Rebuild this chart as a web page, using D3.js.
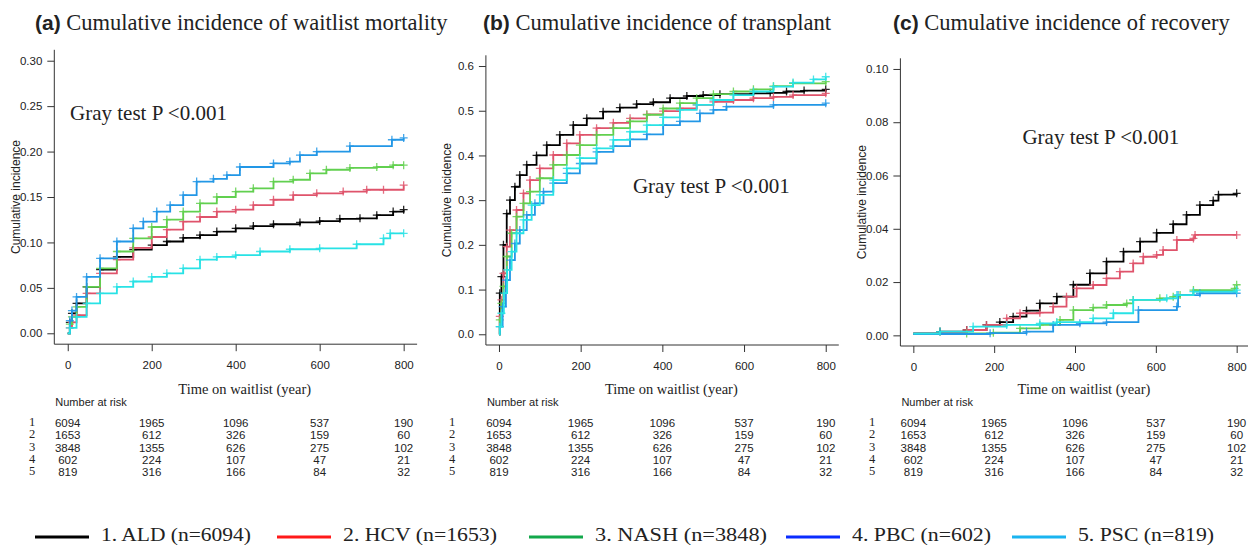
<!DOCTYPE html>
<meta charset="utf-8">
<style>
  body { margin: 0; background: #fff; }
  text { fill: #222; }
</style>
<body>

<script src="https://d3js.org/d3.v7.min.js"></script>
<script>
// ---- data ----
var timeTicks = [0, 200, 400, 600, 800];
var groupLabels = ["1", "2", "3", "4", "5"];

// number at risk (same table under every panel)
var riskALD  = [6094, 1965, 1096, 537, 190];
var riskHCV  = [1653, 612, 326, 159, 60];
var riskNASH = [3848, 1355, 626, 275, 102];
var riskPBC  = [602, 224, 107, 47, 21];
var riskPSC  = [819, 316, 166, 84, 32];

var legendLabels = ["1. ALD (n=6094)", "2. HCV (n=1653)", "3. NASH (n=3848)", "4. PBC (n=602)", "5. PSC (n=819)"];

var yTicksMort = [0, 0.05, 0.10, 0.15, 0.20, 0.25, 0.30];
var yTicksTx   = [0, 0.1, 0.2, 0.3, 0.4, 0.5, 0.6];
var yTicksRec  = [0, 0.02, 0.04, 0.06, 0.08, 0.10];

// (a) waitlist mortality: [day, cumulative incidence]
var mortALD  = [[0,0],[5,.012],[10,.022],[21,.033],[45,.051],[77,.070],[117,.084],[156,.092],[200,.097],[236,.101],[275,.105],[315,.108],[355,.112],[400,.1155],[442,.118],[490,.120],[553,.122],[600,.1235],[648,.126],[696,.1265],[736,.130],[775,.134],[800,.136]];
var mortHCV  = [[0,0],[5,.006],[10,.012],[21,.020],[45,.044],[77,.066],[117,.081],[156,.094],[200,.106],[236,.114],[275,.123],[315,.128],[355,.134],[400,.136],[442,.141],[490,.147],[537,.152],[593,.154],[656,.156],[712,.158],[752,.158],[800,.163]];
var mortNASH = [[0,0],[5,.010],[10,.018],[21,.029],[45,.051],[77,.0715],[117,.090],[156,.1045],[200,.117],[236,.125],[275,.134],[315,.143],[355,.150],[400,.156],[442,.1595],[490,.167],[537,.169],[577,.176],[616,.180],[672,.182],[736,.183],[775,.185],[800,.185]];
var mortPBC  = [[0,0],[5,.014],[10,.025],[21,.040],[45,.062],[77,.0825],[117,.101],[156,.1155],[180,.123],[212,.134],[244,.141],[275,.152],[307,.167],[347,.170],[379,.174],[410,.183],[490,.187],[529,.189],[553,.196],[593,.200],[672,.206],[772,.213],[800,.215]];
var mortPSC  = [[0,0],[5,.006],[21,.018],[45,.033],[77,.044],[117,.051],[156,.057],[200,.062],[236,.066],[275,.0715],[315,.081],[355,.084],[400,.086],[458,.090],[529,.0925],[600,.0935],[688,.098],[752,.1045],[768,.110],[800,.110]];

// (b) transplant
var txALD  = [[0,0],[2,.092],[6,.129],[11,.2],[19,.27],[27,.30],[39,.33],[51,.356],[68,.379],[92,.40],[117,.423],[149,.446],[182,.468],[215,.483],[255,.498],[296,.507],[337,.515],[378,.519],[419,.528],[460,.533],[500,.535],[541,.537],[623,.539],[664,.54],[704,.543],[747,.545],[800,.548]];
var txHCV  = [[0,0],[2,.04],[6,.077],[11,.136],[19,.196],[27,.233],[43,.278],[60,.315],[76,.345],[100,.371],[133,.401],[166,.427],[198,.446],[239,.461],[280,.473],[321,.483],[362,.492],[402,.499],[443,.505],[484,.513],[525,.52],[574,.524],[623,.528],[672,.531],[720,.535],[800,.539]];
var txNASH = [[0,0],[2,.032],[6,.069],[11,.107],[19,.174],[31,.226],[43,.263],[60,.293],[76,.319],[100,.349],[133,.379],[166,.401],[198,.423],[239,.446],[280,.461],[321,.476],[362,.491],[402,.505],[443,.517],[484,.528],[525,.537],[574,.543],[623,.548],[672,.555],[720,.561],[800,.565]];
var txPBC  = [[0,0],[2,.017],[9,.062],[17,.121],[27,.166],[39,.203],[51,.233],[68,.267],[88,.293],[109,.319],[133,.338],[166,.36],[198,.382],[239,.408],[280,.421],[321,.436],[362,.447],[402,.468],[443,.476],[492,.494],[525,.502],[557,.509],[672,.513],[800,.517]];
var txPSC  = [[0,0],[2,.017],[6,.047],[12,.092],[20,.144],[31,.185],[43,.226],[60,.256],[80,.289],[100,.312],[133,.345],[166,.371],[198,.394],[239,.416],[280,.435],[321,.453],[362,.468],[402,.485],[443,.502],[484,.513],[525,.524],[574,.535],[623,.543],[672,.554],[720,.563],[770,.570],[800,.576]];

// (c) recovery
var recALD  = [[0,.0007],[66,.0014],[132,.002],[181,.0039],[214,.005],[247,.007],[280,.0093],[313,.012],[355,.0145],[396,.019],[437,.0233],[478,.0277],[520,.0314],[561,.0352],[602,.0385],[643,.0417],[676,.0452],[709,.0489],[742,.0506],[755,.0528],[800,.0533]];
var recHCV  = [[0,.0007],[132,.002],[181,.0039],[231,.0064],[264,.0083],[313,.0085],[346,.0108],[379,.0145],[404,.0176],[445,.0189],[478,.0214],[511,.0239],[544,.027],[569,.0295],[602,.0302],[618,.032],[652,.0358],[693,.0364],[697,.0377],[800,.0377]];
var recNASH = [[0,.0005],[132,.0007],[198,.001],[264,.0026],[313,.0039],[363,.0058],[396,.0095],[445,.0104],[478,.0114],[528,.012],[544,.0133],[610,.0139],[643,.0145],[660,.0151],[693,.017],[795,.0176],[800,.019]];
var recPBC  = [[0,.0005],[190,.0008],[280,.0014],[346,.0039],[412,.0045],[478,.005],[557,.0095],[652,.0108],[655,.0151],[709,.0158],[800,.0158]];
var recPSC  = [[0,.0007],[66,.0014],[148,.0033],[231,.0039],[313,.0045],[355,.005],[445,.0064],[495,.0083],[544,.0133],[627,.0139],[652,.0151],[693,.0164],[800,.017]];

// colours
var curveColors  = ["#000000", "#DF536B", "#61D04F", "#2297E6", "#28E2E5"];
var legendColors = ["#000000", "#ff1a1a", "#13a84b", "#0a2cff", "#1ab4f0"];

var riskRows = [riskALD, riskHCV, riskNASH, riskPBC, riskPSC];

// ---- layout of the three panels ----
var panels = [
  {tag: "(a)", title: "Cumulative incidence of waitlist mortality", titleX: 35,
   left: 54.3, right: 417.1, top: 49.8, bottom: 344.2, ymax: 0.30, yTicks: yTicksMort, fmt: ".2f",
   series: [mortALD, mortHCV, mortNASH, mortPBC, mortPSC], gray: [5.5, 0.235], rowX: 32},
  {tag: "(b)", title: "Cumulative incidence of transplant", titleX: 483,
   left: 485.9, right: 838.8, top: 55.3, bottom: 345, ymax: 0.6, yTicks: yTicksTx, fmt: ".1f",
   series: [txALD, txHCV, txNASH, txPBC, txPSC], gray: [328, 0.316], rowX: 452},
  {tag: "(c)", title: "Cumulative incidence of recovery", titleX: 893,
   left: 900.4, right: 1249.6, top: 58.3, bottom: 346, ymax: 0.10, yTicks: yTicksRec, fmt: ".2f",
   series: [recALD, recHCV, recNASH, recPBC, recPSC], gray: [270, 0.0718], rowX: 872}
];

var sans = "'Liberation Sans', Arial, sans-serif";
var serif = "'Liberation Serif', 'Times New Roman', serif";

var svg = d3.select("body").append("svg")
    .attr("width", 1248)
    .attr("height", 545);

panels.forEach(function(p) {
  var x = d3.scaleLinear().domain([-32, 832]).range([p.left, p.right]);
  var y = d3.scaleLinear().domain([-0.04 * p.ymax, 1.04 * p.ymax]).range([p.bottom, p.top]);
  var g = svg.append("g");

  // title
  var t = g.append("text").attr("x", p.titleX).attr("y", 29.5);
  t.append("tspan").text(p.tag)
      .style("font-family", sans).style("font-weight", "bold").style("font-size", "21px");
  t.append("tspan").text(" " + p.title)
      .style("font-family", serif).style("font-size", "22.5px");

  // L-shaped frame
  g.append("path")
      .attr("d", "M" + p.left + "," + p.top + "V" + p.bottom + "H" + p.right)
      .attr("fill", "none").attr("stroke", "#333").attr("stroke-width", 1);

  // axes
  var ya = g.append("g")
      .attr("transform", "translate(" + p.left + ",0)")
      .call(d3.axisLeft(y).tickValues(p.yTicks).tickSize(7).tickPadding(5).tickFormat(d3.format(p.fmt)));
  var xa = g.append("g")
      .attr("transform", "translate(0," + p.bottom + ")")
      .call(d3.axisBottom(x).tickValues(timeTicks).tickSize(7).tickPadding(10).tickFormat(d3.format("d")));
  [ya, xa].forEach(function(a) {
    a.select(".domain").remove();
    a.selectAll("line").attr("stroke", "#333");
    a.selectAll("text").style("font-family", sans).style("font-size", "11.5px").attr("fill", "#222");
  });

  // y label
  g.append("text")
      .attr("transform", "translate(" + (p.left - 39) + "," + ((p.top + p.bottom) / 2) + ") rotate(-90)")
      .attr("text-anchor", "middle")
      .attr("dy", "0.35em")
      .style("font-family", sans).style("font-size", "12px")
      .text("Cumulative incidence");

  // curves
  var line = d3.line().curve(d3.curveStepAfter)
      .x(function(d) { return x(d[0]); })
      .y(function(d) { return y(d[1]); });

  p.series.forEach(function(s, i) {
    g.append("path")
        .datum(s)
        .attr("d", line)
        .attr("fill", "none")
        .attr("stroke", curveColors[i])
        .attr("stroke-width", 1.8);
    // censor marks
    g.append("path")
        .attr("d", s.slice(1).map(function(d) {
          var cx = x(d[0]), cy = y(d[1]);
          return "M" + (cx - 4) + "," + cy + "h8M" + cx + "," + (cy - 4) + "v8";
        }).join(""))
        .attr("fill", "none")
        .attr("stroke", curveColors[i])
        .attr("stroke-width", 1.3)
        .attr("stroke-opacity", 0.85);
  });

  // gray test text
  g.append("text")
      .attr("x", x(p.gray[0])).attr("y", y(p.gray[1]))
      .style("font-family", serif).style("font-size", "21px")
      .attr("fill", "#000")
      .text("Gray test P <0.001");

  // x label
  g.append("text")
      .attr("x", x(400) + 9).attr("y", 394)
      .attr("text-anchor", "middle")
      .style("font-family", serif).style("font-size", "14.5px")
      .text("Time on waitlist (year)");

  // number at risk table
  g.append("text")
      .attr("x", p.left + 1).attr("y", 406)
      .style("font-family", sans).style("font-size", "11px")
      .text("Number at risk");

  riskRows.forEach(function(row, r) {
    var by = 427 + r * 12.25;
    g.append("text")
        .attr("x", p.rowX).attr("y", by - 1)
        .attr("text-anchor", "middle")
        .style("font-family", serif).style("font-size", "12.5px")
        .text(groupLabels[r]);
    g.selectAll(null)
        .data(row)
        .enter()
        .append("text")
        .attr("x", function(d, j) { return x(timeTicks[j]); })
        .attr("y", by)
        .attr("text-anchor", "middle")
        .style("font-family", sans).style("font-size", "11.5px")
        .text(function(d) { return d; });
  });
});

// legend
var legendX = [35, 277, 529, 786, 1012];
var legendW = [150, 154, 172, 139, 136];
legendLabels.forEach(function(lab, i) {
  svg.append("line")
      .attr("x1", legendX[i]).attr("x2", legendX[i] + 54)
      .attr("y1", 537).attr("y2", 537)
      .attr("stroke", legendColors[i]).attr("stroke-width", 3);
  svg.append("text")
      .attr("x", legendX[i] + 66).attr("y", 541)
      .attr("textLength", legendW[i]).attr("lengthAdjust", "spacingAndGlyphs")
      .style("font-family", serif).style("font-size", "19px")
      .attr("fill", "#000")
      .text(lab);
});
</script>
</body>
